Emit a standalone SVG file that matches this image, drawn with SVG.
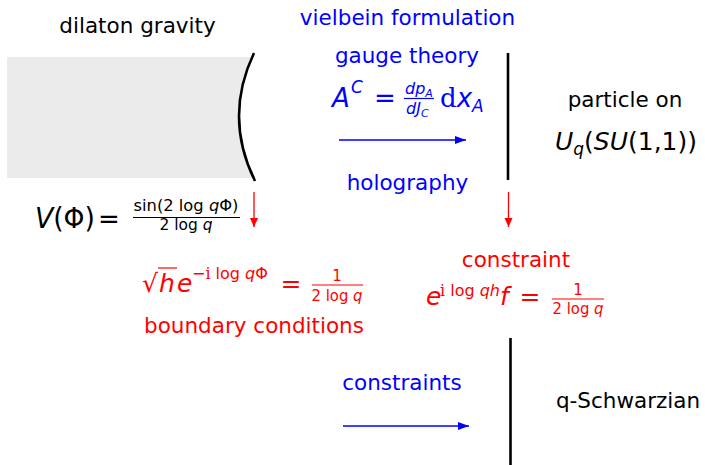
<svg xmlns="http://www.w3.org/2000/svg" width="705" height="465" viewBox="0 0 705 465">
<style>
text{font-family:"DejaVu Sans","Liberation Sans",sans-serif;}
.lbl{font-size:21.5px;text-anchor:middle;}
.blk{fill:#000;}
.blue{fill:#0000ff;}
.red{fill:#ff0000;}
.it{font-style:italic;}
.up{font-style:normal;}
.rm{font-family:"DejaVu Serif","Liberation Serif",serif;font-style:normal;}
.mid{text-anchor:middle;}
.bar{stroke-width:1.2;}
.wall{stroke:#000;stroke-width:2.6;fill:none;}
.barrow{stroke:#0000ff;stroke-width:1.5;fill:none;}
.rarrow{stroke:#ff0000;stroke-width:1.3;fill:none;}
</style>
<defs>
<marker id="hb" markerUnits="userSpaceOnUse" markerWidth="12" markerHeight="10" refX="11" refY="5" orient="auto"><path d="M0,1 L11,5 L0,9 Z" fill="#0000ff"/></marker>
<marker id="hr" markerUnits="userSpaceOnUse" markerWidth="10" markerHeight="10" refX="9" refY="4" orient="auto"><path d="M0,0 L9,4 L0,8 Z" fill="#ff0000"/></marker>
<clipPath id="gclip"><path d="M0,50 L254,50 L254,53 Q223.5,117 255,181 L0,181 Z"/></clipPath>
</defs>

<g id="dilaton-gravity">
<rect x="7" y="57" width="260" height="121" fill="#ebebeb" clip-path="url(#gclip)"/>
<text class="lbl blk" x="137.5" y="33">dilaton gravity</text>
<g id="potential">
<text class="blk" x="35" y="228" font-size="28" textLength="60" lengthAdjust="spacingAndGlyphs"><tspan class="it">V</tspan>(Φ)</text>
<text class="blk mid" x="109" y="228" font-size="26">=</text>
<text class="blk mid" x="186" y="211" font-size="15" textLength="105" lengthAdjust="spacingAndGlyphs">sin(2 log <tspan class="it">q</tspan>Φ)</text>
<line x1="133" y1="217.5" x2="240" y2="217.5" stroke="#000" class="bar"/>
<text class="blk mid" x="186" y="230" font-size="15" textLength="53" lengthAdjust="spacingAndGlyphs">2 log <tspan class="it">q</tspan></text>
</g>
</g>

<g id="gauge-theory">
<text class="lbl blue" x="407.5" y="25">vielbein formulation</text>
<text class="lbl blue" x="407" y="63">gauge theory</text>
<text class="blue it" x="332" y="107" font-size="26">A</text>
<text class="blue it" x="351" y="93" font-size="17">C</text>
<text class="blue mid" x="385" y="107" font-size="26">=</text>
<text class="blue it" x="405" y="94" font-size="16">dp<tspan font-size="11" dy="3">A</tspan></text>
<line x1="404" y1="98.5" x2="434" y2="98.5" stroke="#0000ff" class="bar"/>
<text class="blue it" x="406" y="114" font-size="16">dJ<tspan font-size="11" dy="3">C</tspan></text>
<text class="blue" x="440" y="107" font-size="26"><tspan class="rm">d</tspan><tspan class="it">x</tspan><tspan class="it" font-size="17" dy="5">A</tspan></text>
<text class="lbl blue" x="407.5" y="190">holography</text>
</g>

<g id="particle">
<text class="lbl blk" x="625" y="107">particle on</text>
<text class="blk" x="555" y="150" font-size="25" textLength="142" lengthAdjust="spacingAndGlyphs"><tspan class="it">U</tspan><tspan class="it" font-size="17" dy="5">q</tspan><tspan dy="-5">(</tspan><tspan class="it">SU</tspan>(1,1))</text>
</g>

<g id="boundary-conditions">
<text class="red" x="142" y="292" font-size="25">√</text>
<line x1="158" y1="268" x2="177" y2="268" stroke="#ff0000" stroke-width="1.2"/>
<text class="red it" x="159" y="292" font-size="25">h</text>
<text class="red it" x="177" y="292" font-size="25">e</text>
<text class="red" x="192" y="279" font-size="16">−<tspan class="rm">i</tspan> log <tspan class="it">q</tspan>Φ</text>
<text class="red mid" x="291" y="292" font-size="25">=</text>
<text class="red mid" x="337" y="281" font-size="15">1</text>
<line x1="312" y1="285" x2="363" y2="285" stroke="#ff0000" class="bar"/>
<text class="red mid" x="337" y="301" font-size="15" textLength="51" lengthAdjust="spacingAndGlyphs">2 log <tspan class="it">q</tspan></text>
<text class="lbl red" x="254" y="333">boundary conditions</text>
</g>

<g id="constraint">
<text class="lbl red" x="516" y="267">constraint</text>
<text class="red it" x="426" y="305" font-size="25">e</text>
<text class="red" x="440" y="296" font-size="16"><tspan class="rm">i</tspan> log <tspan class="it">qh</tspan></text>
<text class="red it" x="500" y="305" font-size="25">f</text>
<text class="red mid" x="530" y="305" font-size="25">=</text>
<text class="red mid" x="578" y="295" font-size="15">1</text>
<line x1="552" y1="299" x2="604" y2="299" stroke="#ff0000" class="bar"/>
<text class="red mid" x="578" y="314" font-size="15" textLength="51" lengthAdjust="spacingAndGlyphs">2 log <tspan class="it">q</tspan></text>
</g>

<g id="q-schwarzian">
<text class="lbl blk" x="628" y="408">q-Schwarzian</text>
</g>

<g id="connectors">
<path class="wall" d="M254,53 Q223.5,117 255,181"/>
<line class="wall" x1="508" y1="53" x2="508" y2="180"/>
<line class="wall" x1="510.5" y1="338" x2="510.5" y2="465"/>
<line class="barrow" x1="339" y1="140" x2="466" y2="140" marker-end="url(#hb)"/>
<line class="barrow" x1="343" y1="426" x2="469" y2="426" marker-end="url(#hb)"/>
<text class="lbl blue" x="402" y="390">constraints</text>
<line class="rarrow" x1="254" y1="192" x2="254" y2="227" marker-end="url(#hr)"/>
<line class="rarrow" x1="508.5" y1="192" x2="508.5" y2="227" marker-end="url(#hr)"/>
</g>
</svg>
